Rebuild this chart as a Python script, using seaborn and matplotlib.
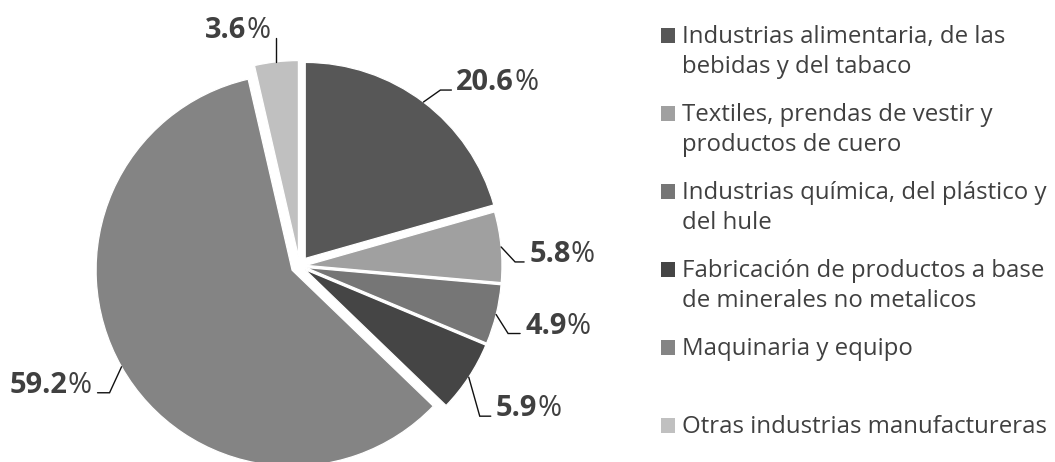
import numpy as np
import matplotlib
matplotlib.use("Agg")
import matplotlib.pyplot as plt
from matplotlib.patches import Rectangle
from matplotlib.font_manager import FontProperties
import seaborn as sns

# ---------------- data ----------------
categories = [
    "Industrias alimentaria, de las\nbebidas y del tabaco",
    "Textiles, prendas de vestir y\nproductos de cuero",
    "Industrias química, del plástico y\ndel hule",
    "Fabricación de productos a base\nde minerales no metalicos",
    "Maquinaria y equipo",
    "Otras industrias manufactureras",
]
shares = [20.6, 5.8, 4.9, 5.9, 59.2, 3.6]
value_labels = ["20.6", "5.8", "4.9", "5.9", "59.2", "3.6"]
colors = ["#575757", "#a0a0a0", "#767676", "#454545", "#848484", "#c0c0c0"]

# ---------------- style ----------------
sns.set_theme(style="white")
FAMILY = ["Open Sans", "DejaVu Sans"]
plt.rcParams["font.family"] = FAMILY
TEXT_COLOR = "#404040"

W, H = 1055, 462
fig = plt.figure(figsize=(W / 100, H / 100), dpi=100)
ax = fig.add_axes([0, 0, 1, 1])

# pie geometry in pixel units (y up)
cx, cy, R = 299.5, H - 266, 196
explode = [9.5, 6.5, 6.5, 6.5, 8.5, 9.5]

wedges, _ = ax.pie(
    shares, colors=colors, startangle=90, counterclock=False,
    radius=R, center=(cx, cy), explode=explode, frame=False,
    wedgeprops=dict(edgecolor="white", linewidth=0.9),
)
ax.set_xlim(0, W)
ax.set_ylim(0, H)
ax.set_aspect("auto")
ax.axis("off")

renderer = fig.canvas.get_renderer()


def text_w(s, fp):
    w, h, d = renderer.get_text_width_height_descent(s, fp, ismath=False)
    return w


# fit font sizes to reference text widths
num_fp = FontProperties(family=FAMILY, weight="bold", size=20)
num_size = 20 * 58 / text_w("20.6", num_fp)

leg_fp = FontProperties(family=FAMILY, size=15)
leg_size = 15 * 365 / text_w("Otras industrias manufactureras", leg_fp)
LINE_STEP = 30

# leader-line layout (pixels, y up): elbow offset from arc point, horizontal run
elbow = [(17, 12), (14, -15), (12, -19), (11, -39), (-12, -26), (0, 24)]
run = [11, 9, 12, 11, -12, 0]

for w, lab, (ex, ey), rn in zip(wedges, value_labels, elbow, run):
    th = np.deg2rad((w.theta1 + w.theta2) / 2)
    x0 = w.center[0] + w.r * np.cos(th)
    y0 = w.center[1] + w.r * np.sin(th)
    x1, y1 = x0 + ex, y0 + ey
    x2 = x1 + rn
    ax.plot([x0, x1, x2], [y0, y1, y1], color="#111111", lw=1.0,
            solid_joinstyle="miter", zorder=3)
    if rn > 0:
        t = ax.text(x2 + 5, y1, lab, ha="left", va="baseline",
                    fontsize=num_size, fontweight="bold", color=TEXT_COLOR)
        ax.annotate("%", xy=(1, y1), xycoords=(t, "data"), ha="left",
                    va="baseline", fontsize=num_size, color=TEXT_COLOR)
    else:
        t = ax.text(x2 - 6, y1, "%", ha="right", va="baseline",
                    fontsize=num_size, color=TEXT_COLOR)
        ax.annotate(lab, xy=(0, y1), xycoords=(t, "data"), ha="right",
                    va="baseline", fontsize=num_size, fontweight="bold",
                    color=TEXT_COLOR)

# legend (manual, first line aligned with the swatch like the reference)
for i, (cat, col) in enumerate(zip(categories, colors)):
    base = H - (43 + 78 * i)
    ax.add_patch(Rectangle((661, base), 14, 15, facecolor=col,
                           edgecolor="none"))
    for k, line in enumerate(cat.split("\n")):
        ax.text(682, base - LINE_STEP * k, line, ha="left", va="baseline",
                fontsize=leg_size, color=TEXT_COLOR)

fig.savefig("out.png", dpi=100, facecolor="white")
